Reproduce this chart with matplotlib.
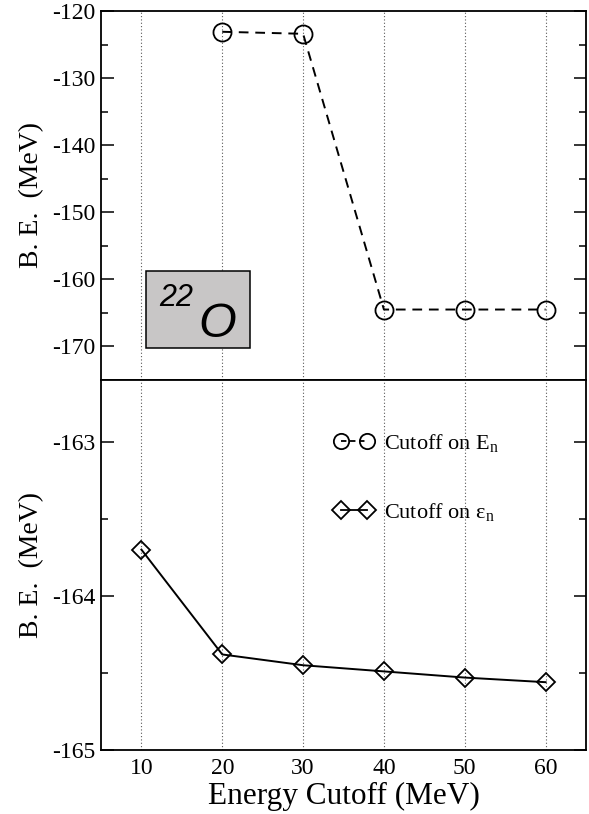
import numpy as np
import matplotlib
matplotlib.use('Agg')
import matplotlib.pyplot as plt
from matplotlib.patches import Rectangle

# Datos
cutoff_En = [20, 30, 40, 50, 60]
be_En = [-123.1, -123.4, -164.5, -164.5, -164.5]

cutoff_eps = [10, 20, 30, 40, 50, 60]
be_eps = [-163.70, -164.38, -164.45, -164.49, -164.53, -164.56]

x_ticks = [10, 20, 30, 40, 50, 60]
top_ticks = [-170, -160, -150, -140, -130, -120]
bottom_ticks = [-165, -164, -163]

plt.rcParams['font.family'] = ['Liberation Serif', 'DejaVu Serif']
plt.rcParams['mathtext.fontset'] = 'stix'
plt.rcParams['axes.unicode_minus'] = False

fig = plt.figure(figsize=(5.89, 8.14), dpi=100)
ax1 = fig.add_axes([0.1715, 0.5332, 0.8234, 0.4533])
ax2 = fig.add_axes([0.1715, 0.0786, 0.8234, 0.4545], sharex=ax1)

for ax in (ax1, ax2):
    for s in ax.spines.values():
        s.set_linewidth(1.3)
    ax.tick_params(axis='y', which='both', direction='in', right=True,
                   labelsize=17, width=1.1, pad=4)
    ax.tick_params(axis='y', which='major', length=9)
    ax.tick_params(axis='y', which='minor', length=5)
    ax.tick_params(axis='x', length=0, labelsize=17, pad=6)
    for xv in x_ticks:
        ax.axvline(xv, color='0.35', linestyle=(0, (1, 2)), linewidth=0.8, zorder=0)

# Panel superior
ax1.plot(cutoff_En, be_En, linestyle=(0, (5, 3.5)), color='black', lw=1.4,
         marker='o', ms=13, mfc='none', mec='black', mew=1.3)
ax1.set_ylim(-175, -120)
ax1.set_yticks(top_ticks)
ax1.set_yticks(np.arange(-175, -119, 5), minor=True)
ax1.set_ylabel('B. E.  (MeV)', fontsize=20, labelpad=6)
ax1.tick_params(axis='x', labelbottom=False)

ax1.add_patch(Rectangle((10.6, -170.3), 12.8, 11.5, facecolor='#c8c6c6',
                        edgecolor='black', lw=1.1, zorder=3))
ax1.text(12.2, -164.0, '22', fontsize=22, style='italic',
         family=['Liberation Sans', 'DejaVu Sans'], zorder=4)
ax1.text(17.0, -168.6, 'O', fontsize=35, style='italic',
         family=['Liberation Sans', 'DejaVu Sans'], zorder=4)

# Panel inferior
ax2.plot(cutoff_eps, be_eps, linestyle='-', color='black', lw=1.4,
         marker='D', ms=9, mfc='none', mec='black', mew=1.3)
ax2.set_ylim(-165, -162.6)
ax2.set_yticks(bottom_ticks)
ax2.set_yticks(np.arange(-165, -162.5, 0.5), minor=True)
ax2.set_xlim(5, 65)
ax2.set_xticks(x_ticks)
ax2.set_ylabel('B. E.  (MeV)', fontsize=20, labelpad=6)
ax2.set_xlabel('Energy Cutoff (MeV)', fontsize=22.5, labelpad=2)

h1, = ax2.plot([], [], linestyle=(0, (3, 2)), color='black', lw=1.3,
               marker='o', ms=11, mfc='none', mec='black', mew=1.3)
h2, = ax2.plot([], [], linestyle='-', color='black', lw=1.3,
               marker='D', ms=9, mfc='none', mec='black', mew=1.3)
ax2.legend([h1, h2], [r'Cutoff on E$_\mathregular{n}$', r'Cutoff on ε$_\mathregular{n}$'],
           loc='center left', bbox_to_anchor=(0.482, 0.737), frameon=False,
           borderpad=0, borderaxespad=0,
           numpoints=2, handlelength=1.75, handletextpad=0.45, labelspacing=2.1,
           fontsize=16)

fig.savefig('out.png', dpi=100)
plt.close(fig)
